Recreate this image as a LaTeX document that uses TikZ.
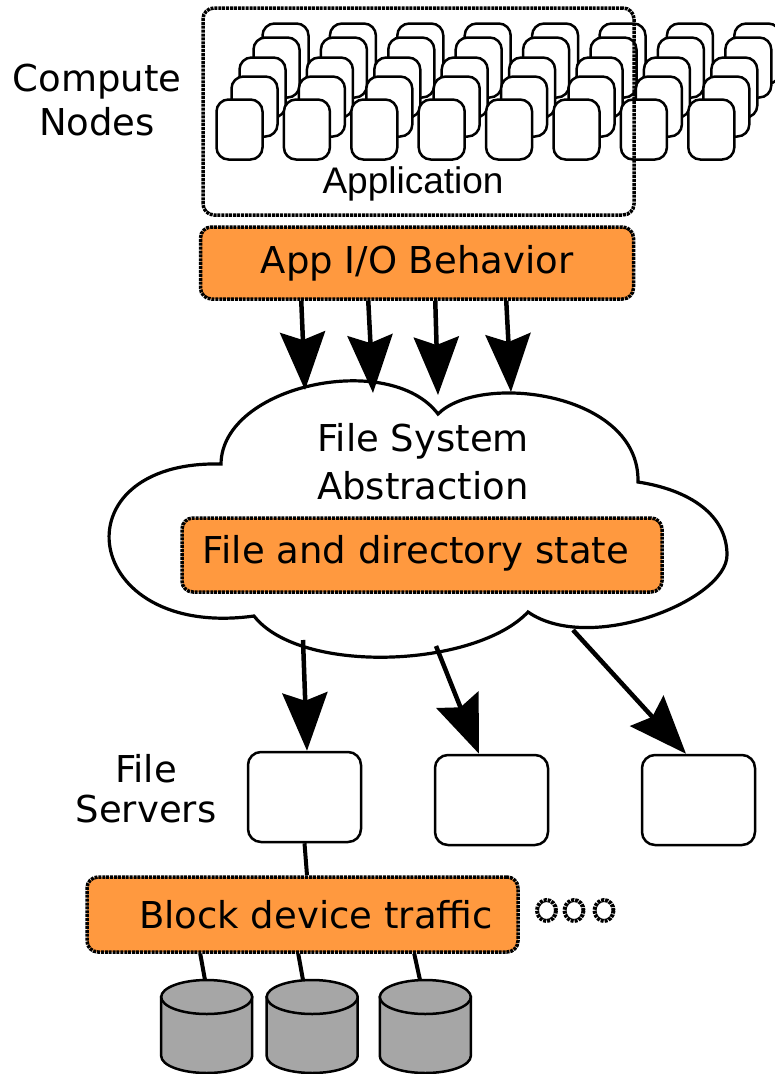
\documentclass[tikz,border=0pt]{standalone}
\usepackage{fontspec}
\setmainfont{DejaVu Sans}
\newfontfamily\appfont{Liberation Sans}
\usetikzlibrary{arrows.meta}
\definecolor{ioorange}{HTML}{FF993F}
\definecolor{diskgray}{HTML}{A6A6A6}

\begin{document}
\begin{tikzpicture}[
		x=1pt, y=-1pt,
		every node/.style={font=\fontsize{37}{44}\selectfont, inner sep=0pt},
		cnode/.style={draw, fill=white, rounded corners=12pt, line width=2.5pt, minimum width=46pt, minimum height=60pt},
		dashbox/.style={draw, rounded corners=11pt, line width=3.5pt, dash pattern=on 3pt off 0.9pt},
		iobox/.style={dashbox, fill=ioorange},
		server/.style={draw, fill=white, rounded corners=13pt, line width=2.5pt, minimum width=113pt, minimum height=90pt},
		bigarrow/.style={line width=4.5pt, -{Stealth[length=58pt, width=45pt, inset=8pt]}},
		link/.style={line width=4pt},
		disk/.style={draw, fill=diskgray, line width=2.5pt}
	]
  \useasboundingbox (0,0) rectangle (775,1074);
  \clip (0,0) rectangle (775,1074);

  \foreach \dx/\dy [count=\l] in {46/-76, 37/-62, 23/-42, 15/-23, 0/0}
    \foreach \c in {0,...,7}
      \node (cn-\l-\c) [cnode] at (239.5+67.4*\c+\dx, 129.5+\dy) {};
  \node (app) [dashbox, minimum width=431pt, minimum height=207pt] at (418.5,111.5) {};
  \node (applabel) [font=\appfont\fontsize{37}{44}\selectfont] at (413,183.5) {Application};
  \node (computelabel) [align=center] at (97,100) {Compute\\Nodes};

  \node (appio) [iobox, minimum width=433pt, minimum height=72pt] at (417,263) {App I/O Behavior};

  \draw[line width=3.2pt, fill=white] (221,464)
    .. controls (222,385) and (390,350) .. (438,414)
    .. controls (480,372) and (640,392) .. (638,482)
    .. controls (690,490) and (727,515) .. (727,555)
    .. controls (727,600) and (590,655) .. (528,612)
    .. controls (475,668) and (300,675) .. (254,616)
    .. controls (80,640) and (55,460) .. (221,464) -- cycle;
  \node (fsa) [align=center, font=\fontsize{37}{48}\selectfont] at (423,462) {File System\\Abstraction};
  \node (fsstate) [iobox, minimum width=480pt, minimum height=74pt] at (422,555) {};
  \node (fsstatelabel) at ([xshift=-6pt, yshift=2pt]fsstate) {File and directory state};

  \foreach \sx/\tx/\ty [count=\i] in {102.5/305/390, 169.5/373/393, 236.5/438/395, 307.5/511/392} {
    \coordinate (in\i) at (\tx,\ty);
    \draw[bigarrow] ([xshift=\sx pt]appio.south west) -- (in\i);
  }

  \node (srv1) [server] at (304.5,797) {};
  \node (srv2) [server] at (491.5,800) {};
  \node (srv3) [server] at (698.5,800) {};
  \node (serverslabel) [align=center, font=\fontsize{37}{40}\selectfont] at (146,789) {File\\Servers};

  \coordinate (out1) at (303,640);
  \coordinate (out2) at (436,646);
  \coordinate (out3) at (573,630);
  \draw[bigarrow] (out1) -- ([xshift=2.5pt]srv1.north);
  \draw[bigarrow] (out2) -- ([xshift=-12.5pt]srv2.north);
  \draw[bigarrow] (out3) -- ([xshift=-12.5pt]srv3.north);

  \node (block) [iobox, minimum width=431pt, minimum height=75pt] at (302.5,914.5) {};
  \node (blocklabel) at ([xshift=13.5pt]block) {Block device traffic};
  \draw[link] (srv1.south) -- ([xshift=4.5pt]block.north);

  \foreach \x in {546.5,574,604}
    \draw[line width=4pt, dash pattern=on 3pt off 1pt] (\x,910.5) ellipse [x radius=9.5, y radius=10.5];

  \foreach \x/\lx/\bx [count=\i] in {206.7/205/115, 312.2/303/213, 425.3/420/329} {
    \coordinate (disk\i) at (\lx,980);
    \draw[link] ([xshift=\bx pt]block.south west) -- (disk\i);
    \draw[disk] (\x-45.5,997) -- (\x-45.5,1056) arc[start angle=180, end angle=0, x radius=45.5, y radius=17] -- (\x+45.5,997) -- cycle;
    \draw[disk] (\x,997) ellipse [x radius=45.5, y radius=17];
  }
\end{tikzpicture}
\end{document}
